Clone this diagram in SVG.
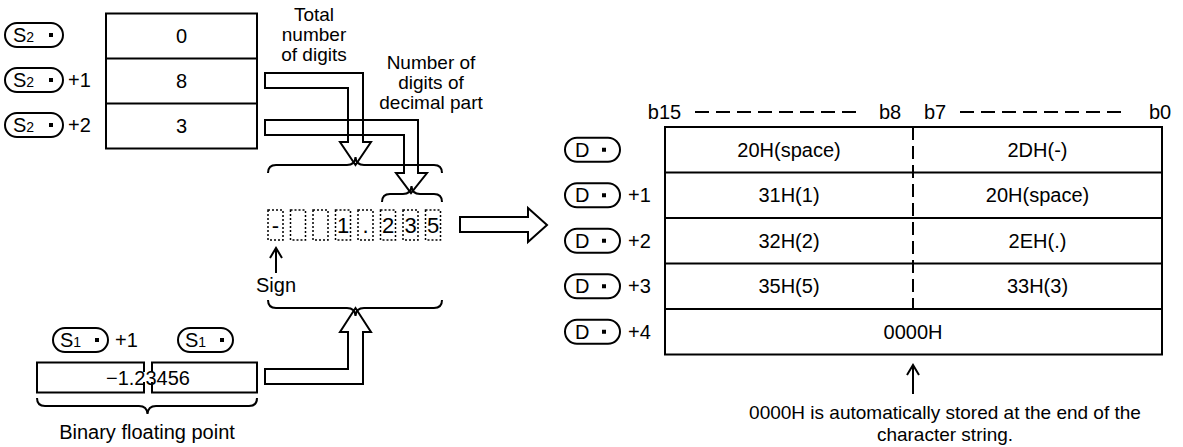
<svg xmlns="http://www.w3.org/2000/svg" width="1183" height="447" viewBox="0 0 1183 447">
<style>
.ln{fill:none;stroke:#000;stroke-width:2}
.dot{fill:none;stroke:#000;stroke-width:1.5;stroke-dasharray:2 2}
.t{font-family:"Liberation Sans",Arial,sans-serif;font-size:20px;fill:#000}
.lb{font-size:19px}
.dg{font-size:22px}
.c{text-anchor:middle}
.sub{font-size:14px}
.ov{fill:#fff;stroke:#000;stroke-width:2}
</style>
<defs>
<g id="ovS2"><rect class="ov" x="0" y="-12" width="58" height="24" rx="12"/><text class="t" x="8" y="7">S<tspan class="sub">2</tspan></text><rect x="44" y="-2" width="4" height="4" fill="#000"/></g>
<g id="ovS1"><rect class="ov" x="0" y="-12" width="55" height="24" rx="12"/><text class="t" x="7" y="7">S<tspan class="sub">1</tspan></text><rect x="42" y="-2" width="4" height="4" fill="#000"/></g>
<g id="ovD"><rect class="ov" x="0" y="-12" width="55" height="24" rx="12"/><text class="t" x="10" y="7">D</text><rect x="37" y="-2" width="4" height="4" fill="#000"/></g>
</defs>

<g id="s2-table">
<use href="#ovS2" x="5" y="35"/>
<use href="#ovS2" x="5" y="80"/><text class="t" x="68" y="87">+1</text>
<use href="#ovS2" x="5" y="125"/><text class="t" x="68" y="132">+2</text>
<rect class="ln" x="106" y="13.5" width="151" height="135"/>
<line class="ln" x1="106" y1="58.5" x2="257" y2="58.5"/>
<line class="ln" x1="106" y1="103.5" x2="257" y2="103.5"/>
<text class="t c" x="181.5" y="43">0</text>
<text class="t c" x="181.5" y="88">8</text>
<text class="t c" x="181.5" y="133">3</text>
</g>

<g id="label-total">
<text class="t lb c" x="314" y="21">Total</text>
<text class="t lb c" x="314" y="41">number</text>
<text class="t lb c" x="314" y="61">of digits</text>
</g>
<g id="label-decimal">
<text class="t lb c" x="431" y="69">Number of</text>
<text class="t lb c" x="431" y="89">digits of</text>
<text class="t lb c" x="431" y="109">decimal part</text>
</g>

<g id="digits">
<rect class="dot" x="268" y="210" width="15" height="30"/>
<rect class="dot" x="290.5" y="210" width="15" height="30"/>
<rect class="dot" x="313" y="210" width="15" height="30"/>
<rect class="dot" x="335.5" y="210" width="15" height="30"/>
<rect class="dot" x="358" y="210" width="15" height="30"/>
<rect class="dot" x="380.5" y="210" width="15" height="30"/>
<rect class="dot" x="403" y="210" width="15" height="30"/>
<rect class="dot" x="425.5" y="210" width="15" height="30"/>
<text class="t dg c" x="275.5" y="233">-</text>
<text class="t dg c" x="343" y="233">1</text>
<text class="t dg c" x="365.5" y="233">.</text>
<text class="t dg c" x="388" y="233">2</text>
<text class="t dg c" x="410.5" y="233">3</text>
<text class="t dg c" x="433" y="233">5</text>
</g>

<g id="sign">
<text class="t c" x="276" y="292">Sign</text>
</g>

<g id="s1-value">
<use href="#ovS1" x="53" y="340"/><text class="t" x="115" y="347">+1</text>
<use href="#ovS1" x="178" y="340"/>
<path class="ln" d="M144,372 V362.5 H37 V392.5 H144 V382"/>
<path class="ln" d="M152,372 V362.5 H257 V392.5 H152 V382"/>
<text class="t c" x="148" y="385">−1.23456</text>
<text class="t c" x="147" y="439">Binary floating point</text>
</g>

<g id="d-table">
<text class="t c" x="664.5" y="119">b15</text>
<line x1="695" y1="112" x2="862" y2="112" stroke="#000" stroke-width="2" stroke-dasharray="14 7"/>
<text class="t c" x="890" y="119">b8</text>
<text class="t c" x="935" y="119">b7</text>
<line x1="960" y1="112" x2="1127" y2="112" stroke="#000" stroke-width="2" stroke-dasharray="14 7"/>
<text class="t c" x="1160" y="119">b0</text>
<use href="#ovD" x="565" y="149.75"/>
<use href="#ovD" x="565" y="195.25"/><text class="t" x="628" y="202">+1</text>
<use href="#ovD" x="565" y="240.75"/><text class="t" x="628" y="248">+2</text>
<use href="#ovD" x="565" y="286.25"/><text class="t" x="628" y="293">+3</text>
<use href="#ovD" x="565" y="331.75"/><text class="t" x="628" y="339">+4</text>
<rect class="ln" x="665" y="127" width="497" height="227.5"/>
<line class="ln" x1="665" y1="172.5" x2="1162" y2="172.5"/>
<line class="ln" x1="665" y1="218" x2="1162" y2="218"/>
<line class="ln" x1="665" y1="263.5" x2="1162" y2="263.5"/>
<line class="ln" x1="665" y1="309" x2="1162" y2="309"/>
<line x1="913" y1="127" x2="913" y2="309" stroke="#000" stroke-width="2" stroke-dasharray="13 6"/>
<text class="t c" x="789" y="157">20H(space)</text>
<text class="t c" x="1037.5" y="157">2DH(-)</text>
<text class="t c" x="789" y="202">31H(1)</text>
<text class="t c" x="1037.5" y="202">20H(space)</text>
<text class="t c" x="789" y="248">32H(2)</text>
<text class="t c" x="1037.5" y="248">2EH(.)</text>
<text class="t c" x="789" y="293">35H(5)</text>
<text class="t c" x="1037.5" y="293">33H(3)</text>
<text class="t c" x="913" y="339">0000H</text>
</g>

<g id="note">
<text class="t c" x="945" y="419" style="font-size:19px">0000H is automatically stored at the end of the</text>
<text class="t c" x="945" y="441" style="font-size:19px">character string.</text>
</g>

<g id="connectors">
<path class="ln" d="M265,73 H363 V142 H371 L355.5,165 L340,142 H348 V88 H265 Z"/>
<path class="ln" d="M265,120 H418 V173 H427 L411,193 L396,173 H404 V135 H265 Z"/>
<path class="ln" d="M268,173 Q268,165 276,165 H347 Q355,165 355.5,157 Q356,165 364,165 H434 Q442,165 442,173"/>
<path class="ln" d="M382,202 Q382,194 390,194 H403 Q411,194 411.5,186 Q412,194 420,194 H434 Q442,194 442,202"/>
<path class="ln" d="M268,300 Q268,308 276,308 H347 Q355,308 355.5,316 Q356,308 364,308 H434 Q442,308 442,300"/>
<path class="ln" d="M265,369 H348 V332 H340 L355.5,308 L371,332 H363 V384 H265 Z"/>
<path class="ln" d="M37,398 Q37,406 45,406 H139 Q147,406 147.5,414 Q148,406 156,406 H249 Q257,406 257,398"/>
<path class="ln" d="M460,217 H528 V208 L547,225 L528,242 V232 H460 Z"/>
<path class="ln" d="M276,273 V249 M270,258 L276,248 L282,258"/>
<path class="ln" d="M913,394 V366 M907,375 L913,365 L919,375"/>
</g>
</svg>
